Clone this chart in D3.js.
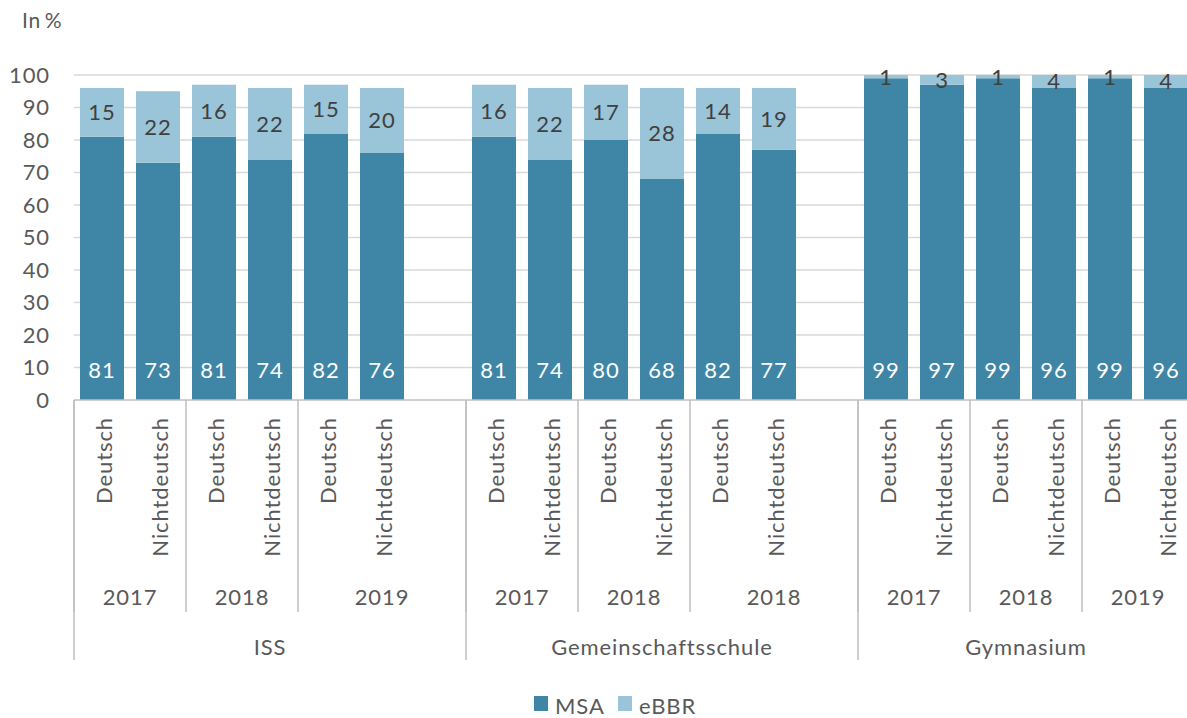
<!DOCTYPE html>
<html>
<head>
<meta charset="utf-8">
<script src="https://cdn.jsdelivr.net/npm/d3@7"></script>
<style>
  body { margin: 0; background: #fff; }
  svg text { font-family: Lato, "Open Sans", sans-serif; letter-spacing: 0.9px; }
</style>
</head>
<body>
<svg id="chart" width="1187" height="718"></svg>
<script>
// data
var groups = ["ISS", "Gemeinschaftsschule", "Gymnasium"];
var years = [["2017", "2018", "2019"], ["2017", "2018", "2018"], ["2017", "2018", "2019"]];
var origins = ["Deutsch", "Nichtdeutsch"];
var msa  = [81, 73, 81, 74, 82, 76,  81, 74, 80, 68, 82, 77,  99, 97, 99, 96, 99, 96];
var ebbr = [15, 22, 16, 22, 15, 20,  16, 22, 17, 28, 14, 19,   1,  3,  1,  4,  1,  4];
var yTicks = [0, 10, 20, 30, 40, 50, 60, 70, 80, 90, 100];
var seriesNames = ["MSA", "eBBR"];
var colors = ["#3f86a6", "#9ac4d8"];

var svg = d3.select("#chart");

// build slot list, an empty slot after each group except the last
var slots = [];
var bars = [];
var yearSpans = [];
var groupSpans = [];
var k = 0;
groups.forEach(function(g, gi){
  var gStart = slots.length;
  years[gi].forEach(function(yr, yi){
    var yStart = slots.length;
    origins.forEach(function(o){
      var id = "s" + slots.length;
      slots.push(id);
      bars.push({id: id, origin: o, msa: msa[k], ebbr: ebbr[k]});
      k++;
    });
    if (yi == years[gi].length - 1 && gi < groups.length - 1) {
      slots.push("gap" + gi);
    }
    yearSpans.push({label: yr, start: yStart, end: slots.length});
  });
  groupSpans.push({label: g, start: gStart, end: slots.length});
});

var pad = 0.214;
var x = d3.scaleBand()
  .domain(slots)
  .range([74, 1194])
  .paddingInner(pad)
  .paddingOuter(pad / 2);

var y = d3.scaleLinear().domain([0, 100]).range([400, 75]);

function slotLeft(i) {
  return x.range()[0] + i * x.step();
}

// gridlines
svg.append("g")
  .selectAll("line")
  .data(yTicks.filter(d => d > 0))
  .enter().append("line")
  .attr("x1", 74).attr("x2", 1187)
  .attr("y1", d => y(d)).attr("y2", d => y(d))
  .attr("stroke", "#d9d9d9")
  .attr("stroke-width", 1.5);

// y tick labels
svg.append("g")
  .selectAll("text")
  .data(yTicks)
  .enter().append("text")
  .attr("x", 50)
  .attr("y", d => y(d))
  .attr("dy", "0.36em")
  .attr("text-anchor", "end")
  .attr("font-size", 22)
  .attr("fill", "#595959")
  .text(d => d);

svg.append("text")
  .attr("x", 22).attr("y", 28)
  .attr("font-size", 21)
  .attr("fill", "#595959")
  .text("In\u2009%");

// bars
var barG = svg.append("g");
barG.selectAll("rect.msa")
  .data(bars)
  .enter().append("rect")
  .attr("class", "msa")
  .attr("x", d => x(d.id))
  .attr("width", x.bandwidth())
  .attr("y", d => y(d.msa))
  .attr("height", d => y(0) - y(d.msa))
  .attr("fill", colors[0]);

barG.selectAll("rect.ebbr")
  .data(bars)
  .enter().append("rect")
  .attr("class", "ebbr")
  .attr("x", d => x(d.id))
  .attr("width", x.bandwidth())
  .attr("y", d => y(d.msa + d.ebbr))
  .attr("height", d => y(d.msa) - y(d.msa + d.ebbr))
  .attr("fill", colors[1]);

// value labels
barG.selectAll("text.msa")
  .data(bars)
  .enter().append("text")
  .attr("class", "msa")
  .attr("x", d => x(d.id) + x.bandwidth() / 2)
  .attr("y", y(0) - 30)
  .attr("dy", "0.36em")
  .attr("text-anchor", "middle")
  .attr("font-size", 22)
  .attr("fill", "#fff")
  .text(d => d.msa);

barG.selectAll("text.ebbr")
  .data(bars)
  .enter().append("text")
  .attr("class", "ebbr")
  .attr("x", d => x(d.id) + x.bandwidth() / 2)
  .attr("y", d => y(d.msa + d.ebbr / 2))
  .attr("dy", "0.36em")
  .attr("text-anchor", "middle")
  .attr("font-size", 22)
  .attr("fill", "#404040")
  .text(d => d.ebbr);

// x axis line
var axisG = svg.append("g").attr("stroke", "#bfbfbf").attr("stroke-width", 1.5);
axisG.append("line")
  .attr("x1", 74).attr("x2", 1187)
  .attr("y1", y(0)).attr("y2", y(0));

// year separators
yearSpans.forEach(function(s){
  axisG.append("line")
    .attr("x1", slotLeft(s.start)).attr("x2", slotLeft(s.start))
    .attr("y1", y(0)).attr("y2", 612);
});
// group separators
groupSpans.forEach(function(s){
  axisG.append("line")
    .attr("x1", slotLeft(s.start)).attr("x2", slotLeft(s.start))
    .attr("y1", y(0)).attr("y2", 660);
});

// category labels (rotated)
svg.append("g")
  .selectAll("text")
  .data(bars)
  .enter().append("text")
  .attr("transform", d => "translate(" + (x(d.id) + x.bandwidth() / 2 + 2) + ",417) rotate(-90)")
  .attr("dy", "0.36em")
  .attr("text-anchor", "end")
  .attr("font-size", 22)
  .attr("fill", "#595959")
  .text(d => d.origin);

// year labels
svg.append("g")
  .selectAll("text")
  .data(yearSpans)
  .enter().append("text")
  .attr("x", d => (slotLeft(d.start) + slotLeft(d.end)) / 2)
  .attr("y", 597)
  .attr("dy", "0.36em")
  .attr("text-anchor", "middle")
  .attr("font-size", 22)
  .attr("fill", "#595959")
  .text(d => d.label);

// group labels
svg.append("g")
  .selectAll("text")
  .data(groupSpans)
  .enter().append("text")
  .attr("x", d => (slotLeft(d.start) + slotLeft(d.end)) / 2)
  .attr("y", 647)
  .attr("dy", "0.36em")
  .attr("text-anchor", "middle")
  .attr("font-size", 22)
  .attr("fill", "#595959")
  .text(d => d.label);

// legend
var legend = svg.append("g");
var lx = [534, 618];
seriesNames.forEach(function(name, i){
  legend.append("rect")
    .attr("x", lx[i]).attr("y", 696)
    .attr("width", 14).attr("height", 15)
    .attr("fill", colors[i]);
  legend.append("text")
    .attr("x", lx[i] + 21).attr("y", 714)
    .attr("font-size", 22)
    .attr("fill", "#595959")
    .text(name);
});
</script>
</body>
</html>
